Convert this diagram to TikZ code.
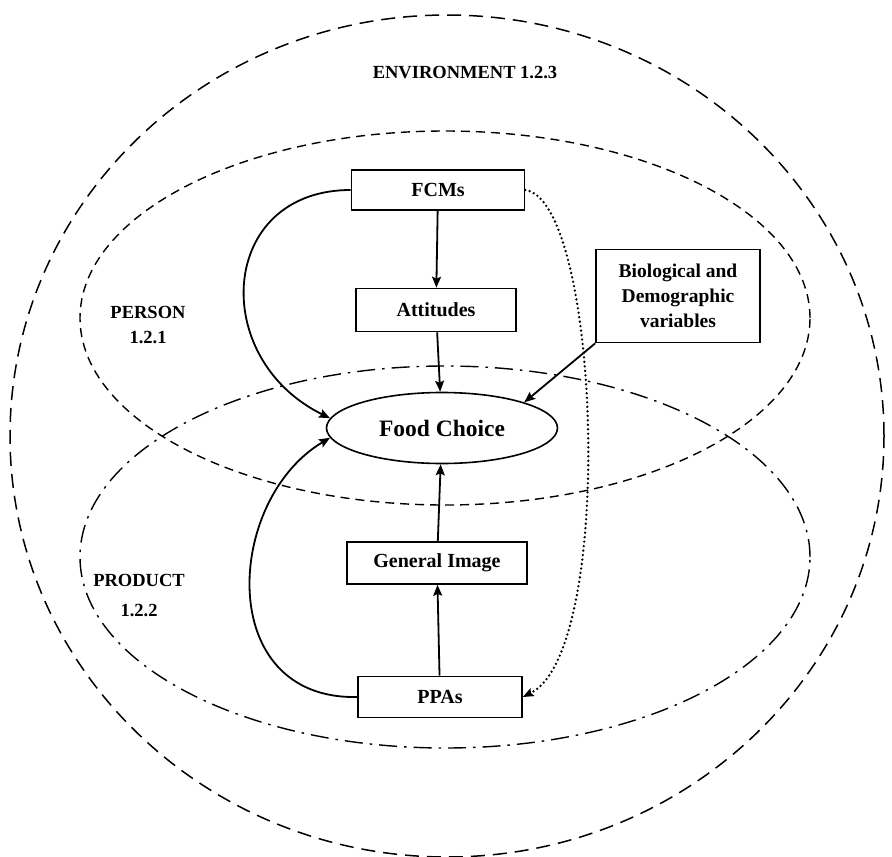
\documentclass[tikz,border=0pt]{standalone}
\usepackage{fontspec}
\setmainfont{Liberation Serif}
\usetikzlibrary{arrows.meta,shapes.geometric}
\begin{document}
\begin{tikzpicture}[x=1pt,y=-1pt,
  boxnode/.style={draw, line width=1.6pt, fill=white, inner sep=0pt,
    font=\fontsize{20}{24}\selectfont\bfseries},
  region/.style={inner sep=0pt, align=center},
  envline/.style={line width=1.5pt, dash pattern=on 14pt off 8pt},
  personline/.style={line width=1.4pt, dash pattern=on 9pt off 6pt},
  productline/.style={line width=1.4pt, dash pattern=on 18pt off 7pt on 2.5pt off 7pt},
  link/.style={line width=1.8pt, -{Stealth[length=11pt,width=9pt,inset=2pt]}},
  dotlink/.style={line width=2.6pt, line cap=round, dash pattern=on 0pt off 4.5pt,
    -{Stealth[length=11pt,width=9pt,inset=2pt,line width=0pt]}}
]
\useasboundingbox (0,0) rectangle (892,857);

% the three nested domains
\draw[envline] (447,436) ellipse [x radius=437pt, y radius=421pt];
\draw[personline] (445,318) ellipse [x radius=365pt, y radius=187pt];
\draw[productline] (445,557) ellipse [x radius=365pt, y radius=191pt];

% domain labels
\node[region, font=\fontsize{18.5}{22}\selectfont\bfseries] (env) at (465,73) {ENVIRONMENT 1.2.3};
\node[region, font=\fontsize{18.5}{25}\selectfont\bfseries] (person) at (148,325) {PERSON\\1.2.1};
\node[region, font=\fontsize{18.5}{30}\selectfont\bfseries] (product) at (139,595) {PRODUCT\\1.2.2};

% boxes
\node[boxnode, minimum width=173pt, minimum height=40pt] (fcm) at (438,190) {FCMs};
\node[boxnode, minimum width=160pt, minimum height=43pt] (att) at (436,310) {Attitudes};
\node[boxnode, minimum width=180pt, minimum height=42pt] (gen) at (437,563) {General Image};
\node[boxnode, minimum width=164pt, minimum height=41pt] (ppa) at (440,697) {PPAs};
\node[boxnode, minimum width=164pt, minimum height=93pt, align=center,
  font=\fontsize{19.5}{25}\selectfont\bfseries] (bio) at (678,296) {Biological and\\Demographic\\variables};
\node[draw, ellipse, line width=1.6pt, fill=white, inner sep=0pt,
  minimum width=231pt, minimum height=71pt,
  font=\fontsize{23.5}{28}\selectfont\bfseries] (food) at (442,428) {Food Choice};

% connectors
\draw[link] (fcm) -- (att);
\draw[link] (att) -- (food);
\draw[link] (gen) -- (food);
\draw[link] (ppa) -- (gen);
\draw[link] (bio.south west) -- (food.north east);
\draw[link] (fcm.west) .. controls +(-132,0) and +(-122,-60) .. (food.175);
\draw[link] (ppa.west) .. controls +(-143,3) and +(-105,62) .. (food.185);
\draw[dotlink] (fcm.east) .. controls +(75,10) and +(93,-47) .. (ppa.east);
\end{tikzpicture}
\end{document}
